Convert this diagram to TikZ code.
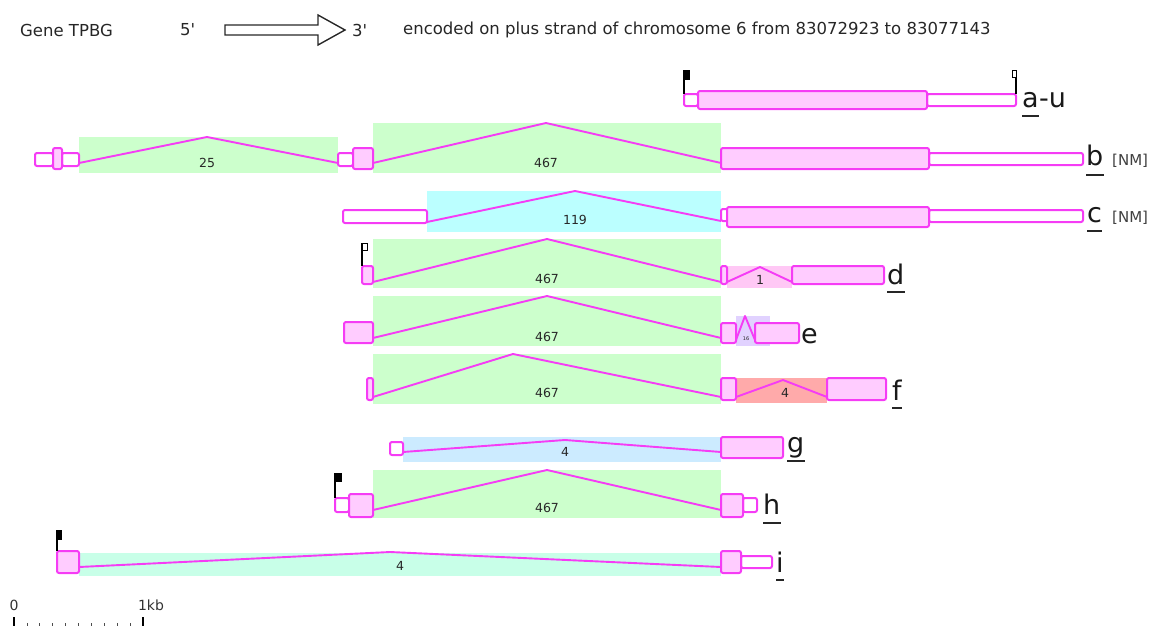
\documentclass[tikz,border=0pt]{standalone}
\usepackage{fontspec}
\setmainfont{DejaVu Sans}
\usepackage{graphicx}
\definecolor{mag}{RGB}{245,60,245}
\definecolor{exf}{RGB}{255,204,255}
\definecolor{igreen}{RGB}{204,255,204}
\definecolor{icyan}{RGB}{187,255,255}
\definecolor{iblue}{RGB}{204,235,255}
\definecolor{iteal}{RGB}{200,255,232}
\definecolor{isalmon}{RGB}{255,170,170}
\definecolor{ipink}{RGB}{255,200,245}
\definecolor{ilav}{RGB}{225,210,255}
\definecolor{lbl}{RGB}{40,40,40}
\newcommand\exon[6]{\node[#2,anchor=north west,minimum width={(#5)-(#3)},minimum height={(#6)-(#4)}] (#1) at (#3,#4) {};}
\begin{document}
\begin{tikzpicture}[x=1pt,y=-1pt,
  utr/.style={draw=mag,line width=2pt,fill=white,rounded corners=2pt,inner sep=0pt,outer sep=0pt},
  cds/.style={utr,fill=exf},
  iline/.style={draw=mag,line width=1.9pt,line join=round},
  ilab/.style={font=\fontsize{12.5}{12.5}\selectfont,text=lbl,inner sep=0pt},
  rlab/.style={font=\fontsize{27}{27}\selectfont,text=black!90,anchor=base west,inner sep=0pt},
  nm/.style={font=\fontsize{15}{15}\selectfont,text=black!75,anchor=base west,inner sep=0pt},
  uline/.style={draw=black!85,line width=1.8pt},
  stem/.style={draw=black,line width=1.4pt},
  hdr/.style={font=\fontsize{16.5}{16.5}\selectfont,text=black!85,anchor=west,inner sep=0pt}]
\useasboundingbox (0,0) rectangle (1155,626);

% header
\node[hdr] (gene) at (20,30) {Gene TPBG};
\node[hdr] (five) at (180,30) {5\textquotesingle};
\draw[line width=1.4pt,black!85] (225,25) -- (318,25) -- (318,15) -- (345,30) -- (318,45) -- (318,35) -- (225,35) -- cycle;
\node[hdr] (three) at (352,30) {3\textquotesingle};
\node[hdr] (enc) at (403,30) {encoded on plus strand of chromosome 6 from 83072923 to 83077143};

% row a-u
\exon{a1}{utr}{684}{94}{698}{106}
\exon{a3}{utr}{927}{94}{1016}{106}
\exon{a2}{cds}{698}{91}{927}{109}
\draw[stem] (a1.north west) -- ++(0,-24);
\fill[black] (683.3,70) rectangle (690,80);
\draw[stem] (a3.north east) -- ++(0,-17);
\draw[line width=1pt] (1012,70) rectangle (1016,77);
\node[rlab] (la) at (1022,107) {a};
\node[rlab] (lu) at (la.base east) {-u};
\draw[uline] ([yshift=-9pt]la.base west) -- ([yshift=-9pt]la.base east);

% row b
\fill[igreen] (79,137) rectangle (338,173);
\fill[igreen] (373,123) rectangle (721,173);
\exon{b1}{utr}{35}{153}{53}{166}
\exon{b3}{utr}{62}{153}{79}{166}
\exon{b2}{cds}{53}{148}{62}{169}
\exon{b4}{utr}{338}{153}{353}{166}
\exon{b5}{cds}{353}{148}{373}{169}
\exon{b7}{utr}{929}{153}{1083}{165}
\exon{b6}{cds}{721}{148}{929}{169}
\coordinate (bp1) at (207,137);
\coordinate (bp2) at (546,123);
\draw[iline] ([yshift=3pt]b3.south east) -- (bp1) -- ([yshift=3pt]b4.south west);
\draw[iline] ([yshift=6pt]b5.south east) -- (bp2) -- ([yshift=6pt]b6.south west);
\node[ilab] (bl1) at (207,163) {25};
\node[ilab] (bl2) at (546,163) {467};
\node[rlab] (lb) at (1086,165) {b};
\draw[uline] ([yshift=-10pt]lb.base west) -- ([yshift=-10pt]lb.base east);
\node[nm] (nmb) at (1112,165) {[NM]};

% row c
\fill[icyan] (427,191) rectangle (721,232);
\exon{c1}{utr}{343}{210}{427}{223}
\exon{c2}{utr}{721}{209}{728}{221}
\exon{c4}{utr}{929}{210}{1083}{222}
\exon{c3}{cds}{727}{207}{929}{227}
\coordinate (cp1) at (575,191);
\draw[iline] ([yshift=1pt]c1.south east) -- (cp1) -- ([yshift=0pt]c2.south west);
\node[ilab] (cl1) at (575,220) {119};
\node[rlab] (lc) at (1087,222) {c};
\draw[uline] ([yshift=-9pt]lc.base west) -- ([yshift=-9pt]lc.base east);
\node[nm] (nmc) at (1112,222) {[NM]};

% row d
\fill[igreen] (373,239) rectangle (721,288);
\fill[ipink] (727,266) rectangle (792,288);
\exon{d1}{cds}{362}{266}{373}{284}
\exon{d2}{cds}{721}{266}{727}{284}
\exon{d3}{cds}{792}{266}{884}{284}
\draw[stem] (d1.north west) -- ++(0,-23);
\draw[line width=1pt,fill=white] (362,243) rectangle (367,250);
\coordinate (dp1) at (547,239);
\coordinate (dp2) at (760,267);
\draw[iline] ([yshift=2pt]d1.south east) -- (dp1) -- ([yshift=2pt]d2.south west);
\draw[iline] ([yshift=2pt]d2.south east) -- (dp2) -- ([yshift=2pt]d3.south west);
\node[ilab] (dl1) at (547,279) {467};
\node[ilab] (dl2) at (760,280) {1};
\node[rlab] (ld) at (887,284) {d};
\draw[uline] ([yshift=-8pt]ld.base west) -- ([yshift=-8pt]ld.base east);

% row e
\fill[igreen] (373,296) rectangle (721,346);
\fill[ilav] (736,316) rectangle (770,346);
\exon{e1}{cds}{344}{322}{373}{343}
\exon{e2}{cds}{721}{323}{736}{343}
\coordinate (ep1) at (547,296);
\coordinate (ep2) at (745,316);
\draw[iline] ([yshift=5pt]e1.south east) -- (ep1) -- ([yshift=5pt]e2.south west);
\node[ilab,font=\fontsize{5}{5}\selectfont] (el2) at (746,339) {16};
\exon{e3}{cds}{755}{323}{799}{343}
\draw[iline] ([yshift=3pt]e2.south east) -- (ep2) -- ([yshift=3pt]e3.south west);
\node[ilab] (el1) at (547,337) {467};
\node[rlab] (le) at (801,343) {e};

% row f
\fill[igreen] (373,354) rectangle (721,404);
\fill[isalmon] (736,378) rectangle (827,403);
\exon{f1}{cds}{367}{378}{373}{400}
\exon{f2}{cds}{721}{378}{736}{400}
\exon{f3}{cds}{827}{378}{886}{400}
\coordinate (fp1) at (513,354);
\coordinate (fp2) at (783,380);
\draw[iline] ([yshift=3pt]f1.south east) -- (fp1) -- ([yshift=3pt]f2.south west);
\draw[iline] ([yshift=3pt]f2.south east) -- (fp2) -- ([yshift=3pt]f3.south west);
\node[ilab] (fl1) at (547,393) {467};
\node[ilab] (fl2) at (785,393) {4};
\node[rlab] (lf) at (892,400) {f};
\draw[uline] ([yshift=-8pt]lf.base west) -- ([yshift=-8pt]lf.base east);

% row g
\fill[iblue] (403,437) rectangle (721,462);
\exon{g1}{utr}{390}{442}{403}{455}
\exon{g2}{cds}{721}{437}{783}{458}
\coordinate (gp1) at (565,440);
\draw[iline] ([yshift=3pt]g1.south east) -- (gp1) -- ([yshift=6pt]g2.south west);
\node[ilab] (gl1) at (565,452) {4};
\node[rlab] (lg) at (787,452) {g};
\draw[uline] ([yshift=-9pt]lg.base west) -- ([yshift=-9pt]lg.base east);

% row h
\fill[igreen] (373,470) rectangle (721,518);
\exon{h1}{utr}{335}{498}{349}{512}
\exon{h4}{utr}{743}{498}{757}{512}
\exon{h2}{cds}{349}{494}{373}{517}
\exon{h3}{cds}{721}{494}{743}{517}
\draw[stem] (h1.north west) -- ++(0,-25);
\fill[black] (334.3,473) rectangle (342,482);
\coordinate (hp1) at (547,470);
\draw[iline] ([yshift=7pt]h2.south east) -- (hp1) -- ([yshift=7pt]h3.south west);
\node[ilab] (hl1) at (547,508) {467};
\node[rlab] (lh) at (763,514) {h};
\draw[uline] ([yshift=-9pt]lh.base west) -- ([yshift=-9pt]lh.base east);

% row i
\fill[iteal] (79,553) rectangle (721,576);
\exon{i3}{utr}{741}{556}{772}{568}
\exon{i1}{cds}{57}{551}{79}{573}
\exon{i2}{cds}{721}{551}{741}{573}
\draw[stem] (i1.north west) -- ++(0,-21);
\fill[black] (56.3,530) rectangle (62,540);
\coordinate (ip1) at (390,552);
\draw[iline] ([yshift=6pt]i1.south east) -- (ip1) -- ([yshift=6pt]i2.south west);
\node[ilab] (il1) at (400,566) {4};
\node[rlab] (li) at (776,572) {i};
\draw[uline] ([yshift=-8pt]li.base west) -- ([yshift=-8pt]li.base east);

% scale bar
\node[font=\fontsize{14}{14}\selectfont,text=black!80,inner sep=0pt] (s0) at (14,605) {0};
\node[font=\fontsize{14}{14}\selectfont,text=black!80,inner sep=0pt] (s1) at (151,605) {1kb};
\draw[line width=1.2pt] (14,617) -- (14,626) (143,617) -- (143,626);
\foreach \k in {1,...,9} {\draw[line width=0.8pt,black!70] ({14+12.9*\k},623) -- ({14+12.9*\k},626);}
\end{tikzpicture}
\end{document}
